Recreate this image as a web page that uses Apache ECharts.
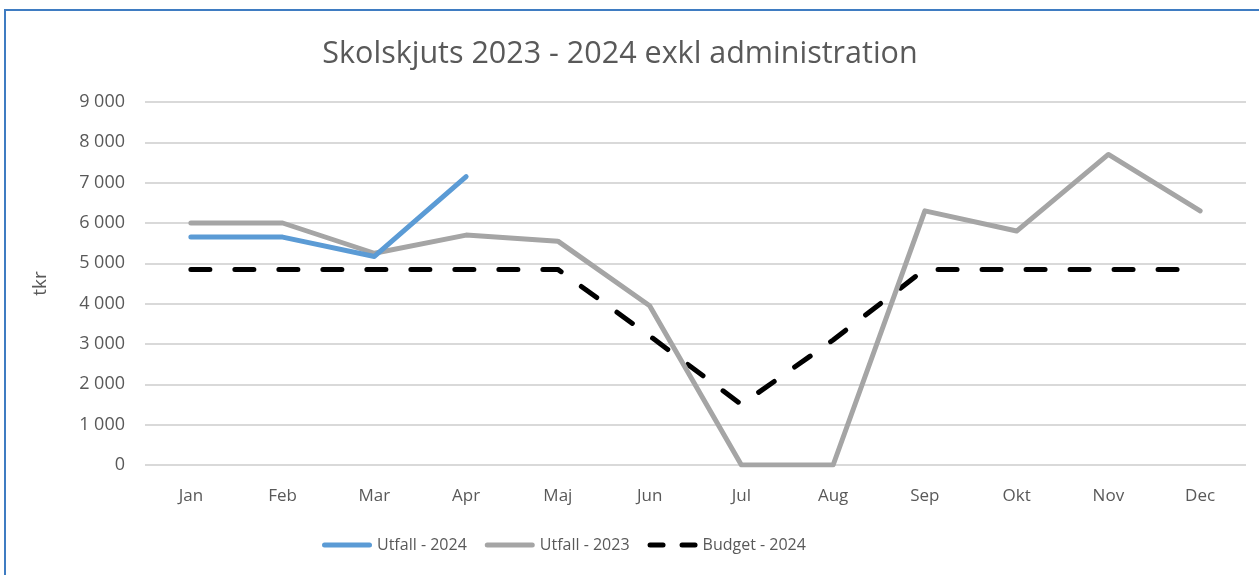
<!DOCTYPE html>
<html>
<head>
<meta charset="utf-8">
<script src="https://cdn.jsdelivr.net/npm/echarts@6/dist/echarts.min.js"></script>
<style>
  html, body { margin: 0; padding: 0; background: #fff; }
  .frame {
    position: absolute; left: 4px; top: 9px;
    width: 1400px; height: 700px;
    border: 2px solid #3f7cc2;
  }
  #chart { position: absolute; left: 0; top: 0; width: 1259px; height: 575px; }
</style>
</head>
<body>
<div class="frame"></div>
<div id="chart"></div>
<script>
const months = ['Jan', 'Feb', 'Mar', 'Apr', 'Maj', 'Jun', 'Jul', 'Aug', 'Sep', 'Okt', 'Nov', 'Dec'];
const utfall2024 = [5650, 5650, 5170, 7150, null, null, null, null, null, null, null, null];
const utfall2023 = [6000, 6000, 5250, 5700, 5550, 3950, 0, 0, 6300, 5800, 7700, 6300];
const budget2024 = [4850, 4850, 4850, 4850, 4850, 3200, 1500, 3100, 4850, 4850, 4850, 4850];

const textColor = '#595959';
const font = 'Open Sans';

// legend icons: solid bar and two short dashes
const solidIcon = 'path://M2.5,0H47.5A2.5,2.5,0,0,1,47.5,5H2.5A2.5,2.5,0,0,1,2.5,0Z';
const dashIcon = 'path://M2.5,0H15.5A2.5,2.5,0,0,1,15.5,5H2.5A2.5,2.5,0,0,1,2.5,0Z'
  + 'M34.5,0H47.5A2.5,2.5,0,0,1,47.5,5H34.5A2.5,2.5,0,0,1,34.5,0Z';

const chart = echarts.init(document.getElementById('chart'));

chart.setOption({
  animation: false,
  title: {
    text: 'Skolskjuts 2023 - 2024 exkl administration',
    left: 615,
    textAlign: 'center',
    top: 34,
    textStyle: { color: textColor, fontFamily: font, fontSize: 30.5, fontWeight: 'normal' },
  },
  grid: { left: 145, right: 13, top: 102, bottom: 110 },
  legend: {
    bottom: 17,
    left: 317,
    itemWidth: 50,
    itemHeight: 5,
    itemGap: 18,
    textStyle: { color: textColor, fontFamily: font, fontSize: 16 },
    data: [
      { name: 'Utfall - 2024', icon: solidIcon },
      { name: 'Utfall - 2023', icon: solidIcon },
      { name: 'Budget - 2024', icon: dashIcon },
    ],
  },
  xAxis: {
    type: 'category',
    data: months,
    axisLine: { show: false },
    axisTick: { show: false },
    axisLabel: { color: textColor, fontFamily: font, fontSize: 17, margin: 23 },
  },
  yAxis: {
    type: 'value',
    min: 0,
    max: 9000,
    interval: 1000,
    name: 'tkr',
    nameLocation: 'middle',
    nameGap: 95,
    nameTextStyle: { color: textColor, fontFamily: font, fontSize: 19 },
    axisLabel: {
      color: textColor, fontFamily: font, fontSize: 18, margin: 20,
      formatter: (v) => String(v).replace(/\B(?=(\d{3})+(?!\d))/g, ' '),
    },
    splitLine: { lineStyle: { color: '#d9d9d9', width: 2 } },
  },
  series: [
    {
      name: 'Utfall - 2024',
      type: 'line',
      data: utfall2024,
      symbol: 'none',
      z: 3,
      lineStyle: { color: '#5b9bd5', width: 5, cap: 'round', join: 'round' },
      itemStyle: { color: '#5b9bd5' },
    },
    {
      name: 'Utfall - 2023',
      type: 'line',
      data: utfall2023,
      symbol: 'none',
      z: 2,
      lineStyle: { color: '#a5a5a5', width: 5, cap: 'round', join: 'round' },
      itemStyle: { color: '#a5a5a5' },
    },
    {
      name: 'Budget - 2024',
      type: 'line',
      data: budget2024,
      symbol: 'none',
      z: 1,
      lineStyle: { color: '#000', width: 5, type: [19, 25], cap: 'round' },
      itemStyle: { color: '#000' },
    },
  ],
});
</script>
</body>
</html>
